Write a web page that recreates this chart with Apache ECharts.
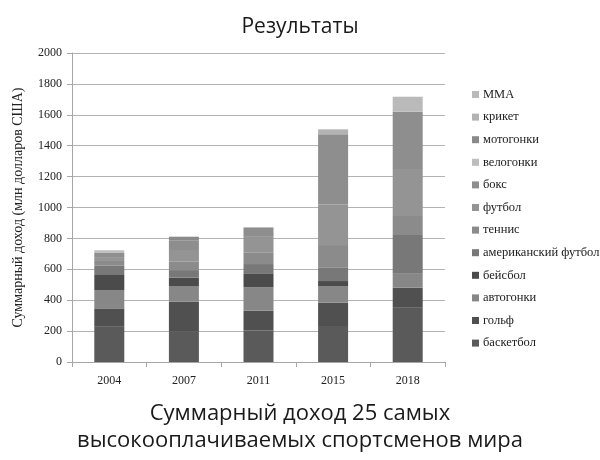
<!DOCTYPE html>
<html><head><meta charset="utf-8">
<script src="https://cdn.jsdelivr.net/npm/echarts@6/dist/echarts.min.js"></script>
<style>html,body{margin:0;padding:0;background:#fff}#c{width:600px;height:460px}</style>
</head><body><div id="c"></div>
<script>
const categories = ['2004','2007','2011','2015','2018'];
const seriesNames = ['баскетбол','гольф','автогонки','бейсбол','американский футбол','теннис','футбол','бокс','велогонки','мотогонки','крикет','MMA'];
const basketball = [228, 200, 205, 233, 351];
const golf       = [119, 190, 127, 151, 130];
const autoracing = [119, 102, 151, 108, 91];
const baseball   = [97, 54, 91, 32, 0];
const amFootball = [60, 49, 60, 89, 250];
const tennis     = [31, 54, 76, 144, 123];
const football   = [25, 76, 100, 263, 304];
const boxing     = [27, 60, 61, 454, 371];
const cycling    = [17, 0, 0, 0, 0];
const motoracing = [0, 26, 0, 0, 0];
const cricket    = [0, 0, 0, 32, 0];
const mma        = [0, 0, 0, 0, 97];
const yTicks = [0,200,400,600,800,1000,1200,1400,1600,1800,2000];

const values = [basketball, golf, autoracing, baseball, amFootball, tennis, football, boxing, cycling, motoracing, cricket, mma];
const colors = ['#5a5a5a','#505050','#878787','#4b4b4b','#787878','#8b8b8b','#949494','#8e8e8e','#bdbdbd','#8a8a8a','#b3b3b3','#bababa'];
const serif = '"Liberation Serif", "DejaVu Serif", serif';
const sans = '"Open Sans", Lato, "Noto Sans", sans-serif';

const chart = echarts.init(document.getElementById('c'));
chart.setOption({
  animation: false,
  backgroundColor: '#fff',
  title: [{
    text: 'Результаты', left: 295, textAlign: 'center', top: 12,
    textStyle: {fontFamily: sans, fontSize: 21, fontWeight: 'normal', color: '#1a1a1a'}
  }, {
    text: 'Суммарный доход 25 самых\nвысокооплачиваемых спортсменов мира',
    left: 295, top: 395, textAlign: 'center',
    textStyle: {fontFamily: sans, fontSize: 22, fontWeight: 'normal', color: '#1a1a1a', lineHeight: 27}
  }],
  legend: {
    orient: 'vertical', left: 467, top: 83,
    data: seriesNames.slice().reverse(),
    itemWidth: 7, itemHeight: 7, itemGap: 9.6,
    textStyle: {fontFamily: serif, fontSize: 12.5, color: '#222', padding: [0,0,0,-1]},
    icon: 'rect'
  },
  grid: {left: 72, right: 155, top: 53, bottom: 98, containLabel: false},
  xAxis: {
    type: 'category', data: categories,
    axisLine: {lineStyle: {color: '#a6a6a6'}},
    axisTick: {show: true, alignWithLabel: false, lineStyle: {color: '#a6a6a6'}, length: 5},
    axisLabel: {fontFamily: serif, fontSize: 12, color: '#222', margin: 13}
  },
  yAxis: {
    type: 'value', min: 0, max: 2000, interval: 200,
    name: 'Суммарный доход (млн долларов США)', nameLocation: 'middle', nameGap: 47, nameRotate: 90,
    nameTextStyle: {fontFamily: serif, fontSize: 14, color: '#222'},
    axisLine: {show: true, lineStyle: {color: '#a6a6a6'}},
    axisTick: {show: true, inside: false, length: 5, lineStyle: {color: '#a6a6a6'}},
    axisLabel: {fontFamily: serif, fontSize: 12, color: '#222', margin: 10,
      formatter: v => yTicks.includes(v) ? String(v) : ''},
    splitLine: {lineStyle: {color: '#b3b3b3'}}
  },
  series: seriesNames.map((n, i) => ({
    name: n, type: 'bar', stack: 'total', data: values[i],
    barWidth: 30,
    itemStyle: {color: colors[i]},
    emphasis: {disabled: true}
  }))
});
</script></body></html>
